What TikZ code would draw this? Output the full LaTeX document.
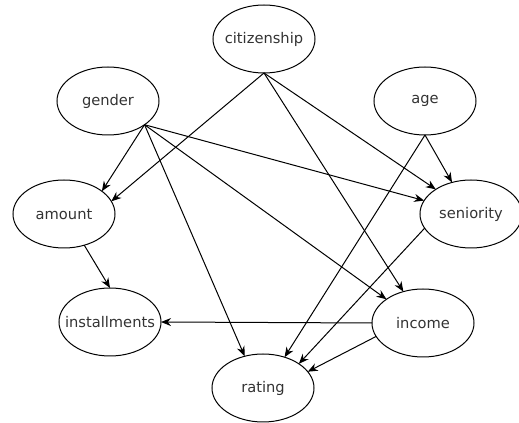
\documentclass[tikz,border=0pt]{standalone}
\usepackage{fontspec}
\setmainfont{DejaVu Sans}
\usetikzlibrary{shapes.geometric,arrows.meta}
% label of fixed width zero, so the ellipse keeps its own size
\newcommand{\varname}[1]{\makebox[0pt]{#1}}

\begin{document}
\begin{tikzpicture}[x=0.75pt, y=-0.75pt,
  var/.style={draw, ellipse, line width=0.75pt, minimum width=76.5pt,
    minimum height=51pt, inner sep=0pt, outer sep=0pt, text=black!80,
    font=\fontsize{11}{13}\selectfont},
  link/.style={-{Stealth[length=7.5pt, width=6pt]}, line width=0.75pt}]
  \useasboundingbox (0,0) rectangle (519,423);

  % variables (positions in pixels of the original)
  \node[var] (citizenship) at (264,39) {\varname{citizenship}};
  \node[var] (gender) at (108,101) {\varname{gender}};
  \node[var] (age) at (425,101) {\varname{age}};
  \node[var] (amount) at (64,214) {\varname{amount}};
  \node[var] (seniority) at (471,214) {\varname{seniority}};
  \node[var] (installments) at (110,322) {\varname{installments}};
  \node[var] (income) at (423,323) {\varname{income}};
  \node[var] (rating) at (263,388) {\varname{rating}};

  % edges out of gender leave from one point of its border
  \draw[link] (gender.-33) -- (amount.31);
  \draw[link] (gender.-33) -- (rating.120);
  \draw[link] (gender.-33) -- (seniority.164);
  \draw[link] (gender.-33) -- (income.147);

  \draw[link] (citizenship.south) -- (amount.15);
  \draw[link] (citizenship.south) -- (seniority.145);
  \draw[link] (citizenship.south) -- (income.122);

  \draw[link] (age.south) -- (seniority.121);
  \draw[link] (age.south) -- (rating.55);

  \draw[link] (amount.-57) -- (installments.north);
  \draw[link] (income.west) -- (installments.east);
  \draw[link] (income.-164) -- (rating.20);
  \draw[link] (seniority.-163) -- (rating.34);
\end{tikzpicture}
\end{document}
